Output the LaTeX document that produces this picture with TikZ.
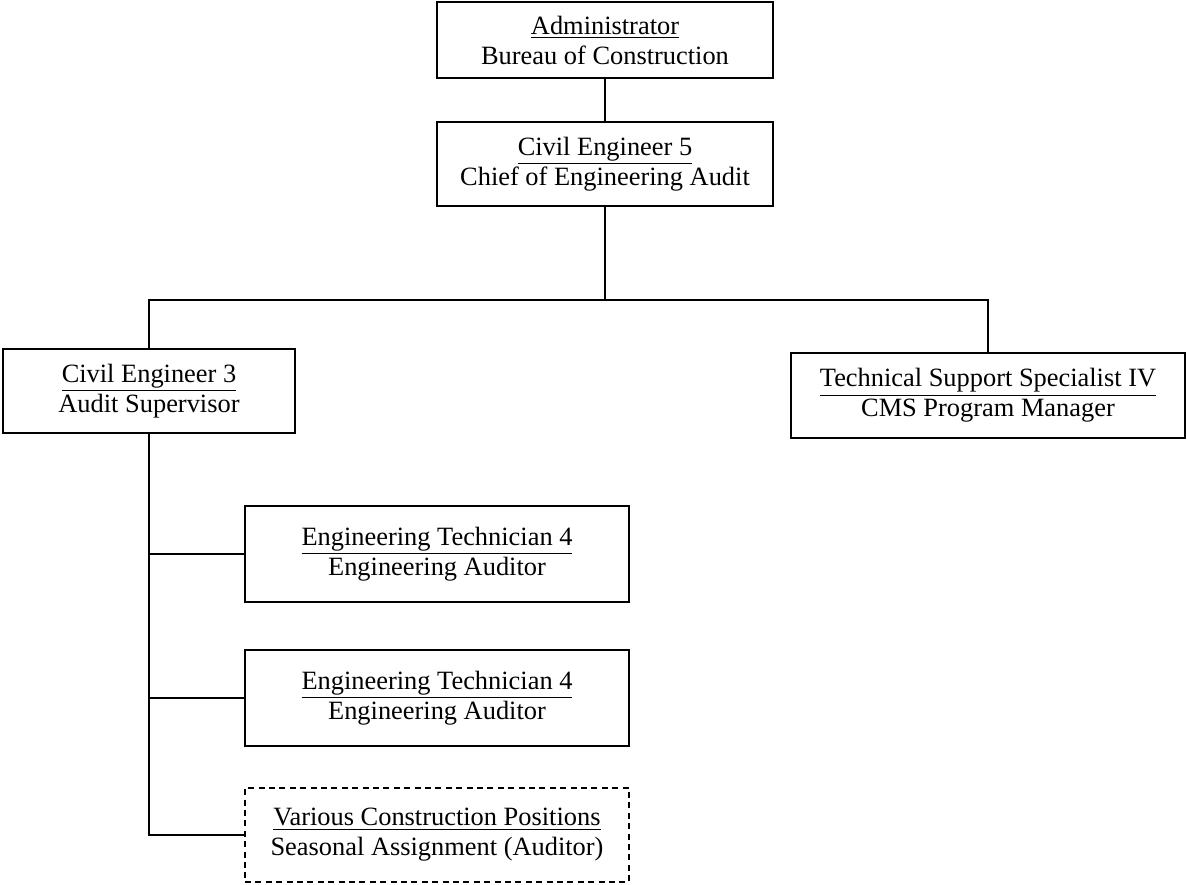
\documentclass[tikz,border=0pt]{standalone}
\usepackage{fontspec}
\setmainfont{Liberation Serif}
\usetikzlibrary{positioning}
\begin{document}
\begin{tikzpicture}[
            x=0.5pt, y=-0.5pt, line width=0.9pt,
            box/.style={draw, inner sep=0pt, align=center,
                    font=\fontsize{13.2pt}{15pt}\selectfont},
            seasonal/.style={box, dash pattern=on 3pt off 2.2pt},
            link/.style={-}
        ]
        \useasboundingbox (0,0) rectangle (1187,884);
        \node[box, minimum width=168pt, minimum height=38pt] (admin) at (605,40) {\underline{Administrator}\\Bureau of Construction};
        \node[box, minimum width=168pt, minimum height=42pt] (chief) at (605,164) {\underline{Civil Engineer 5}\\Chief of Engineering Audit};
        \node[box, minimum width=146pt, minimum height=42pt] (super) at (149,391) {\underline{Civil Engineer 3}\\Audit Supervisor};
        \node[box, minimum width=197pt, minimum height=42.5pt] (cms) at (988,395.5) {\underline{Technical Support Specialist IV}\\CMS Program Manager};
        \node[box, minimum width=192pt, minimum height=48pt] (techA) at (437,554) {\underline{Engineering Technician 4}\\Engineering Auditor};
        \node[box, minimum width=192pt, minimum height=48pt] (techB) at (437,698) {\underline{Engineering Technician 4}\\Engineering Auditor};
        \node[seasonal, minimum width=192pt, minimum height=47pt] (various) at (437,835) {\underline{Various Construction Positions}\\Seasonal Assignment (Auditor)};
        \coordinate (bar) at (605,300);

        \draw[link] (admin) -- (chief);
        \draw[link] (chief) -- (bar);
        \draw[link] (super.north) |- (bar) -| (cms.north);
        \draw[link] (super.south) |- (various.west);
        \draw[link] (super.south |- techA.west) -- (techA.west);
        \draw[link] (super.south |- techB.west) -- (techB.west);
    \end{tikzpicture}
\end{document}
